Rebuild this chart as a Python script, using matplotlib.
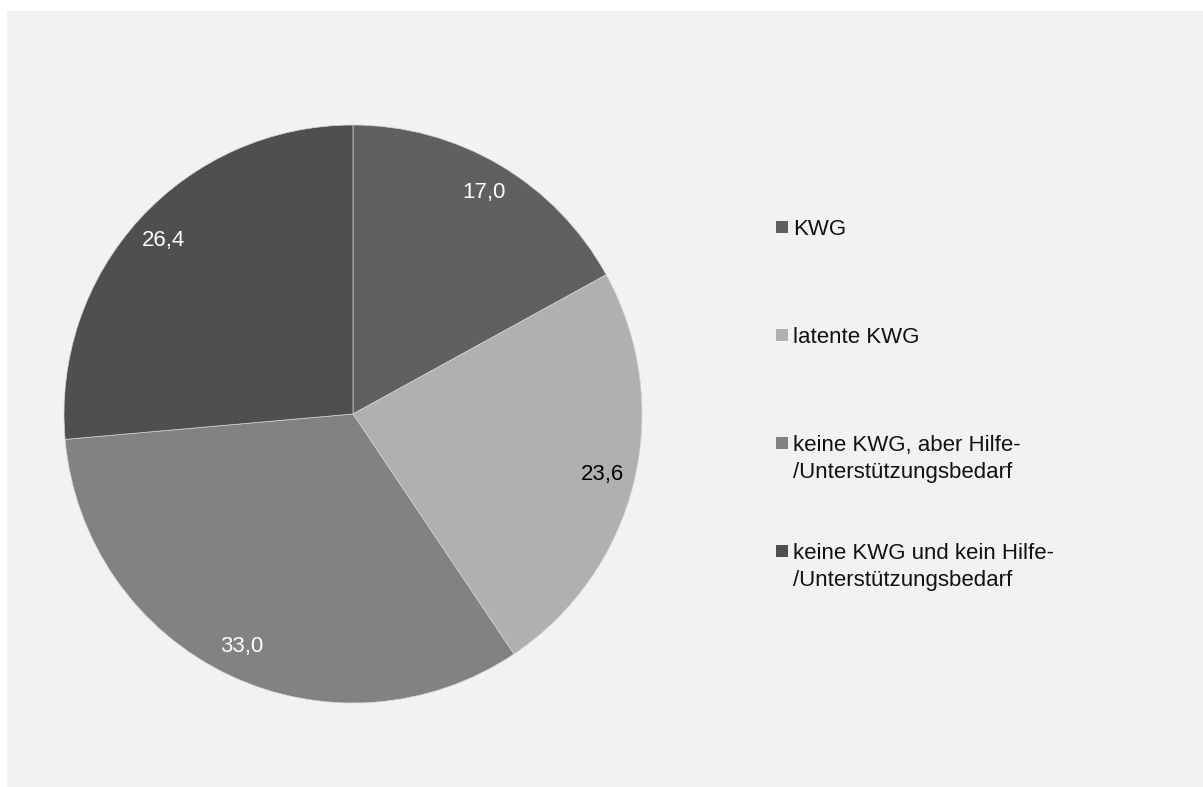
import matplotlib
matplotlib.use("Agg")
import matplotlib.pyplot as plt
from matplotlib.patches import Rectangle

# Data
categories = [
    "KWG",
    "latente KWG",
    "keine KWG, aber Hilfe-\n/Unterstützungsbedarf",
    "keine KWG und kein Hilfe-\n/Unterstützungsbedarf",
]
values = [17.0, 23.6, 33.0, 26.4]
colors = ["#606060", "#b0b0b0", "#828282", "#4f4f4f"]
label_colors = ["white", "black", "white", "white"]

plt.rcParams["font.family"] = ["Liberation Sans", "DejaVu Sans"]

W, H = 1203, 787
fig = plt.figure(figsize=(W / 100, H / 100), dpi=100, facecolor="white")

# light gray chart area
fig.patches.append(Rectangle((7 / W, 0), (W - 7) / W, (H - 11) / H,
                             transform=fig.transFigure, facecolor="#f2f2f2",
                             edgecolor="none", zorder=-5))

# pie axes: center (353, 414), radius 289 px
cx, cy, r = 353, 414, 289
ax = fig.add_axes([(cx - r) / W, (H - cy - r) / H, 2 * r / W, 2 * r / H])
ax.set_facecolor("none")
ax.set_zorder(2)

wedges, texts, autotexts = ax.pie(
    values,
    colors=colors,
    startangle=90,
    counterclock=False,
    autopct=lambda p: f"{p:.1f}".replace(".", ","),
    pctdistance=0.89,
    wedgeprops=dict(edgecolor="#d4d4d4", linewidth=0.5),
    textprops=dict(fontsize=16),
)
for t, c in zip(autotexts, label_colors):
    t.set_color(c)
ax.set_xlim(-1, 1)
ax.set_ylim(-1, 1)
ax.set_aspect("equal")

# legend drawn by hand (entries ~108 px apart)
leg_y0 = 227
for i, (lab, col) in enumerate(zip(categories, colors)):
    yc = leg_y0 + i * 108  # pixel from top, centre of first line
    fig.patches.append(Rectangle((776 / W, (H - yc - 6) / H), 12 / W, 12 / H,
                                 transform=fig.transFigure, facecolor=col,
                                 edgecolor="none", zorder=1))
    for j, line in enumerate(lab.split("\n")):
        fig.text(793 / W, (H - (yc + 8 + j * 27)) / H, line, fontsize=16,
                 color="#111111", va="baseline", ha="left")

fig.savefig("out.png", dpi=100, facecolor=fig.get_facecolor())
